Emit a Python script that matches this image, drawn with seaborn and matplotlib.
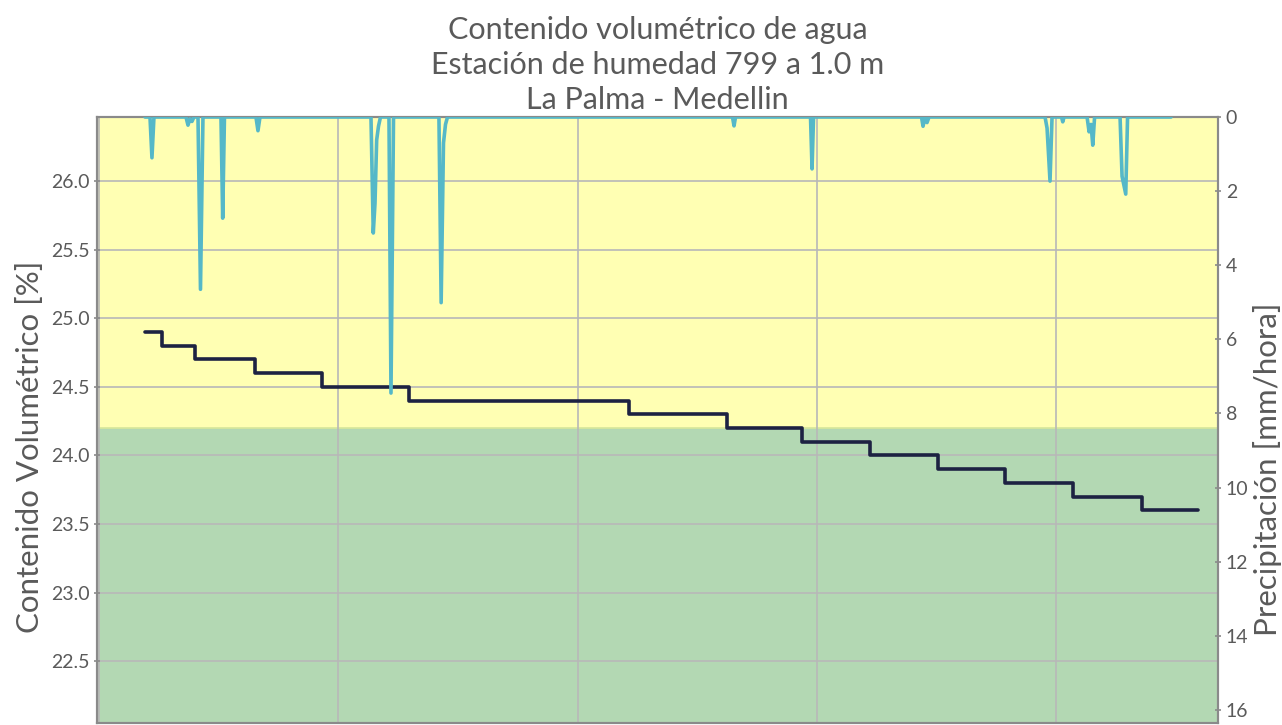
import numpy as np
import pandas as pd
import matplotlib
matplotlib.use("Agg")
import matplotlib.pyplot as plt
import seaborn as sns

# ---- data (x in days from start of record) ----
soil_day = [0.961, 1.316, 2.006, 3.260, 4.660, 6.480, 11.07, 13.13, 14.69, 16.11,
            17.53, 18.93, 20.35, 21.79, 22.96]
soil_val = [24.9, 24.8, 24.7, 24.6, 24.5, 24.4, 24.3, 24.2, 24.1, 24.0,
            23.9, 23.8, 23.7, 23.6, 23.6]

rain_day = [0.961, 1.066, 1.107, 1.149, 1.818, 1.860, 1.901, 1.943, 1.985,
            2.069, 2.121, 2.173, 2.549, 2.585, 2.622, 3.280, 3.322, 3.364,
            5.683, 5.731, 5.767, 5.802, 5.840, 5.882, 6.059, 6.101, 6.154,
            7.103, 7.149, 7.198, 7.240, 7.282, 13.236, 13.268, 13.299,
            14.866, 14.898, 14.929, 17.185, 17.217, 17.258, 17.300, 17.342,
            19.766, 19.808, 19.870, 19.912, 20.111, 20.136, 20.163,
            20.644, 20.686, 20.727, 20.763, 20.801, 21.333, 21.375, 21.452,
            21.490, 22.399]
rain_val = [0, 0, 1.1, 0, 0, 0.22, 0.05, 0.12, 0,
            0, 4.65, 0, 0, 2.73, 0, 0, 0.37, 0,
            0, 3.13, 2.33, 0.62, 0.25, 0, 0, 7.45, 0,
            0, 5.01, 0.7, 0.2, 0, 0, 0.24, 0,
            0, 1.4, 0, 0, 0.25, 0, 0.15, 0,
            0, 0.3, 1.73, 0, 0, 0.13, 0,
            0, 0.4, 0.2, 0.76, 0, 0, 1.6, 2.08,
            0, 0]

x_ticks = [0, 5, 10, 15, 20]
left_ticks = [22.5, 23.0, 23.5, 24.0, 24.5, 25.0, 25.5, 26.0]
right_ticks = [0, 2, 4, 6, 8, 10, 12, 14, 16]
threshold = 24.2

soil_df = pd.DataFrame({"dia": soil_day, "humedad": soil_val})
rain_df = pd.DataFrame({"dia": rain_day, "lluvia": rain_val})

sns.set_style("white")
plt.rcParams["font.family"] = ["Lato", "DejaVu Sans"]

text_c = "#5a5a5a"
fig = plt.figure(figsize=(12.82, 7.25), dpi=100)
ax = fig.add_axes([0.0757, 0.003, 0.8744, 0.8356])

y_lo, y_hi = 22.05, 26.468
ax.set_ylim(y_lo, y_hi)
ax.set_xlim(-0.04, 23.38)
ax.axhspan(threshold, y_hi, color="#ffffb3", zorder=0)
ax.axhspan(y_lo, threshold, color="#b3d8b3", zorder=0)
ax.axhline(threshold, color="#d8e89a", lw=1.2, zorder=0.5)

ax.set_xticks(x_ticks)
ax.set_xticklabels([])
ax.set_yticks(left_ticks)
ax.set_yticklabels([f"{v:.1f}" for v in left_ticks])
ax.grid(True, color="#b8b8b8", lw=1.2)
ax.set_axisbelow(True)

sns.lineplot(data=soil_df, x="dia", y="humedad", ax=ax, color="#1d2242",
             lw=2.6, drawstyle="steps-post", zorder=3)
ax.set_xlabel("")
ax.set_ylabel("Contenido Volumétrico [%]", fontsize=22.5, color=text_c)
ax.yaxis.set_label_coords(-0.047, 0.455)

ax2 = ax.twinx()
sns.lineplot(data=rain_df, x="dia", y="lluvia", ax=ax2, color="#55b8c8",
             lw=2.6, zorder=4)
ax2.set_ylim(16.35, 0)
ax2.set_yticks(right_ticks)
ax2.set_yticklabels([str(v) for v in right_ticks])
ax2.set_xlabel("")
ax2.set_ylabel("Precipitación [mm/hora]", fontsize=22.5, color=text_c)
ax2.yaxis.set_label_coords(1.031, 0.418)
ax2.grid(False)

for a in (ax, ax2):
    for s in a.spines.values():
        s.set_color("#8a8a8a")
        s.set_linewidth(1.5)
    a.tick_params(axis="both", colors="#8a8a8a", labelcolor=text_c,
                  labelsize=14, length=4, width=1.2, direction="inout")

ax.set_title("Contenido volumétrico de agua\nEstación de humedad 799 a 1.0 m\nLa Palma - Medellin",
             fontsize=22, color=text_c, pad=6, linespacing=1.3)

fig.savefig("out.png", dpi=100)
